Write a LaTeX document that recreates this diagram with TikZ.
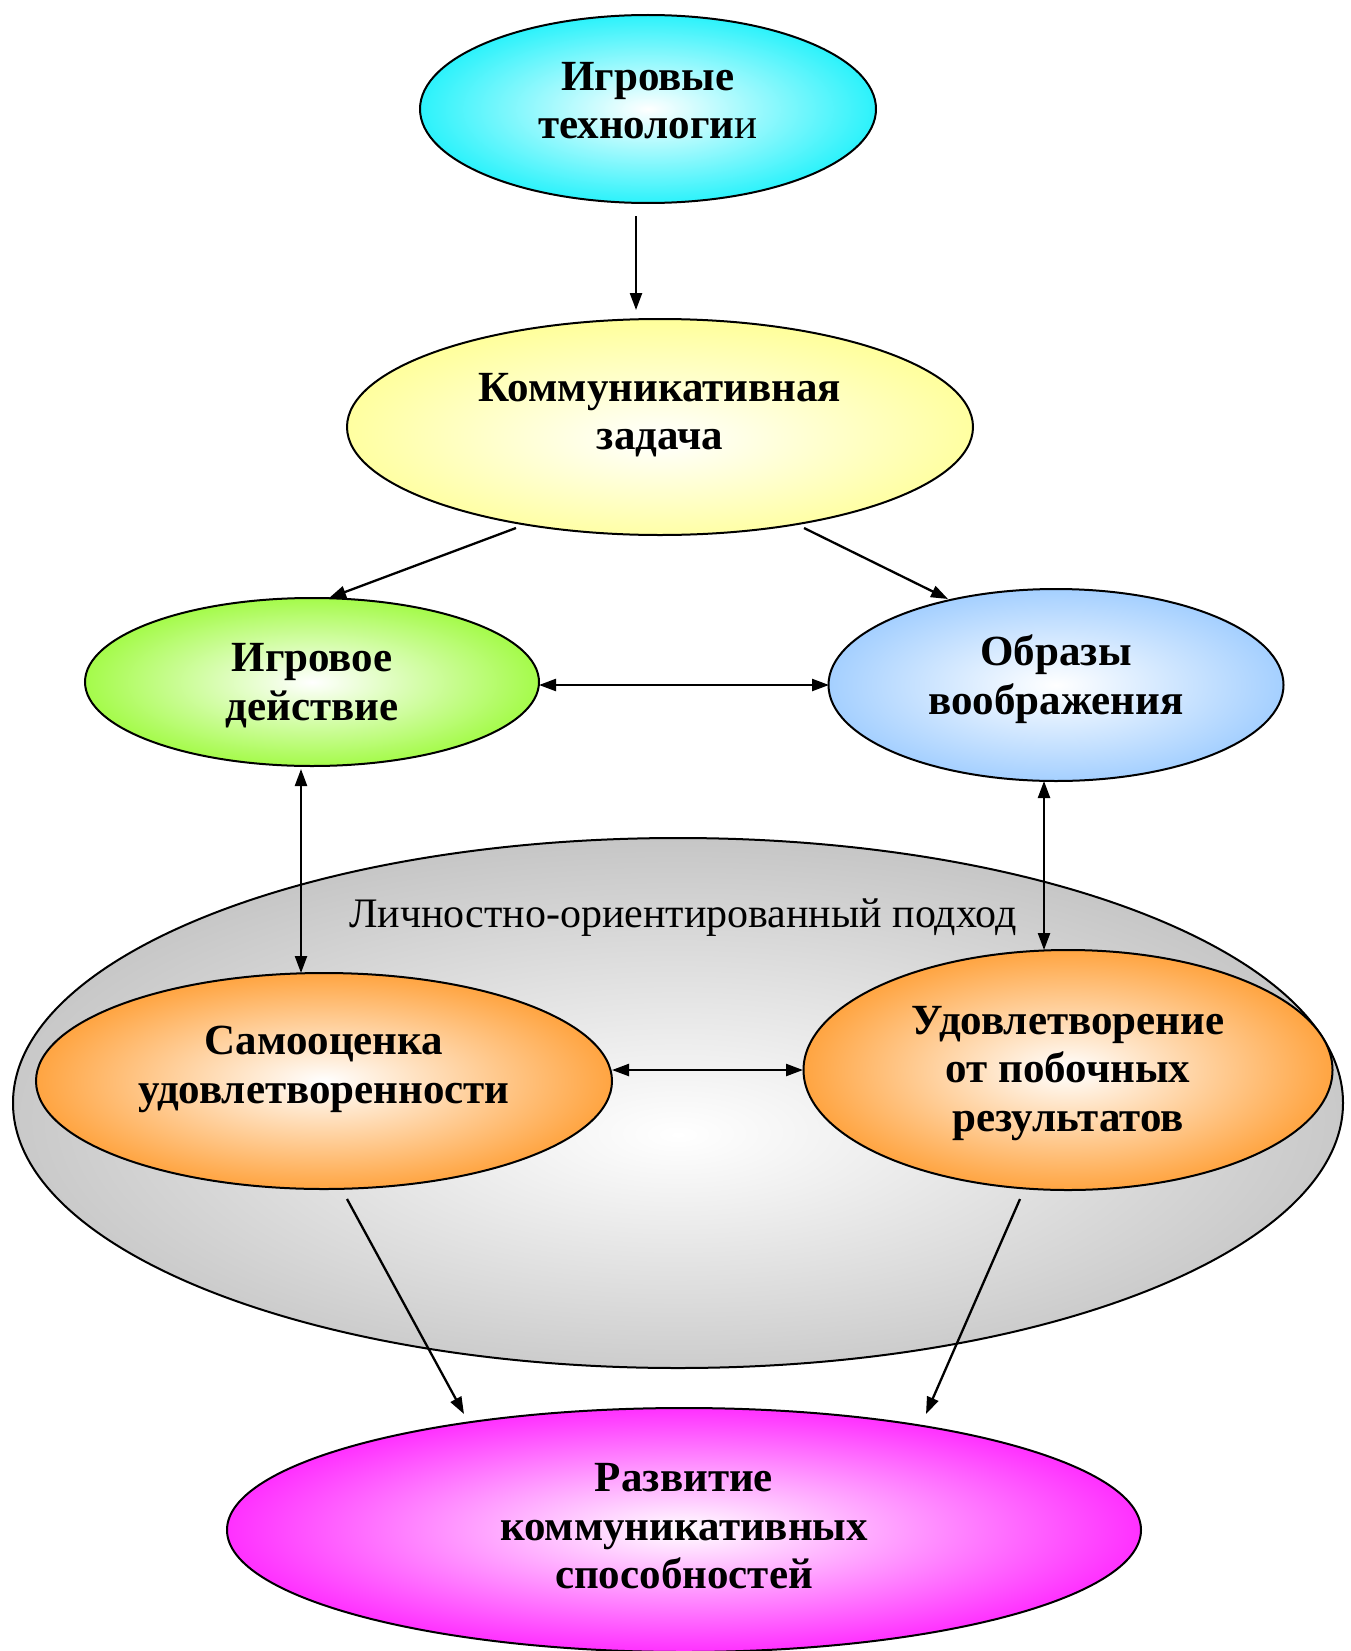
\documentclass[tikz,border=0pt]{standalone}
\usepackage{fontspec}
\setmainfont{Liberation Serif}
\usetikzlibrary{shapes.geometric,arrows.meta,calc}
\definecolor{ccyan}{RGB}{10,240,250}
\definecolor{cyellow}{RGB}{255,255,145}
\definecolor{cgreen}{RGB}{150,250,45}
\definecolor{cblue}{RGB}{150,200,255}
\definecolor{cgray}{RGB}{188,188,188}
\definecolor{corange}{RGB}{255,150,35}
\definecolor{cmagenta}{RGB}{255,15,255}
\pgfdeclareradialshading{shcyan}{\pgfpoint{0bp}{0bp}}{color(0bp)=(white);color(29bp)=(ccyan);color(50bp)=(ccyan)}
\pgfdeclareradialshading{shyellow}{\pgfpoint{0bp}{-3bp}}{color(0bp)=(white);color(29bp)=(cyellow);color(50bp)=(cyellow)}
\pgfdeclareradialshading{shgreen}{\pgfpoint{0bp}{0bp}}{color(0bp)=(white);color(29bp)=(cgreen);color(50bp)=(cgreen)}
\pgfdeclareradialshading{shblue}{\pgfpoint{0bp}{0bp}}{color(0bp)=(white);color(29bp)=(cblue);color(50bp)=(cblue)}
\pgfdeclareradialshading{shgray}{\pgfpoint{0bp}{-3bp}}{color(0bp)=(white);color(31bp)=(cgray);color(50bp)=(cgray)}
\pgfdeclareradialshading{shorange}{\pgfpoint{0bp}{0bp}}{color(0bp)=(white);color(29bp)=(corange);color(50bp)=(corange)}
\pgfdeclareradialshading{shmagenta}{\pgfpoint{0bp}{0bp}}{color(0bp)=(white);color(29bp)=(cmagenta);color(50bp)=(cmagenta)}
\newcommand{\rtxt}[2]{\raisebox{#1}[\height][\depth]{\begin{tabular}{@{}c@{}}#2\end{tabular}}}
\begin{document}
\begin{tikzpicture}[x=1pt,y=-1pt,
  ell/.style={ellipse, draw=black, line width=2pt, inner sep=0pt,
    font=\fontsize{43}{48.5}\selectfont\bfseries, shade},
  arr/.style={line width=2.3pt, -{Triangle[length=17pt,width=12pt]}},
  darr/.style={line width=2.3pt, {Triangle[length=17pt,width=12pt]}-{Triangle[length=17pt,width=12pt]}}]
\useasboundingbox (0,0) rectangle (1350,1651);
\fill[white] (0,0) rectangle (1350,1651);

% big gray ellipse
\node[ellipse, draw=black, line width=2pt, shade, shading=shgray,
  minimum width=1330pt, minimum height=530pt, inner sep=0pt] (big) at (678,1103) {};
\node[font=\fontsize{42}{48}\selectfont, inner sep=0pt] (lab) at (683,918) {Личностно-ориентированный подход};

\node[ell, shading=shcyan, minimum width=456pt, minimum height=188pt] (top) at (648,109)
  {\rtxt{4.3pt}{Игровые\\технологи{\mdseries и}}};
\node[ell, shading=shyellow, minimum width=626pt, minimum height=216pt] (komm) at (660,427)
  {\rtxt{11pt}{Коммуникативная\\задача}};
\node[ell, shading=shgreen, minimum width=454pt, minimum height=168pt] (igr) at (312,682)
  {\rtxt{-4.5pt}{Игровое\\действие}};
\node[ell, shading=shblue, minimum width=455pt, minimum height=192pt] (obr) at (1056,685)
  {\rtxt{4.5pt}{Образы\\воображения}};
\node[ell, shading=shorange, minimum width=576pt, minimum height=216pt] (sam) at (324,1081)
  {\rtxt{11.5pt}{Самооценка\\удовлетворенности}};
\node[ell, shading=shorange, minimum width=529pt, minimum height=240pt] (udo) at (1068,1070)
  {\rtxt{-3pt}{Удовлетворение\\от побочных\\результатов}};
\node[ell, shading=shmagenta, minimum width=914pt, minimum height=244pt] (raz) at (684,1530)
  {\rtxt{-0.5pt}{Развитие\\коммуникативных\\способностей}};

% connectors
\draw[arr] ($(top.center)+(-12,107)$) -- ($(komm.center)+(-24,-117)$);
\draw[arr] ($(komm.center)+(-144,101)$) -- ($(igr.center)+(17,-84)$);
\draw[arr] ($(komm.center)+(144,101)$) -- ($(obr.center)+(-108,-86)$);
\draw[darr] ($(igr.center)+(227,3)$) -- ($(obr.center)+(-227,0)$);
\draw[darr] ($(igr.center)+(-11,87)$) -- ($(sam.center)+(-23,-108)$);
\draw[darr] ($(obr.center)+(-12,96)$) -- ($(udo.center)+(-24,-120)$);
\draw[darr] ($(sam.center)+(288,-11)$) -- ($(udo.center)+(-265,0)$);
\draw[arr] ($(sam.center)+(23,118)$) -- ($(raz.center)+(-220,-116)$);
\draw[arr] ($(udo.center)+(-48,129)$) -- ($(raz.center)+(242,-116)$);
\end{tikzpicture}
\end{document}
